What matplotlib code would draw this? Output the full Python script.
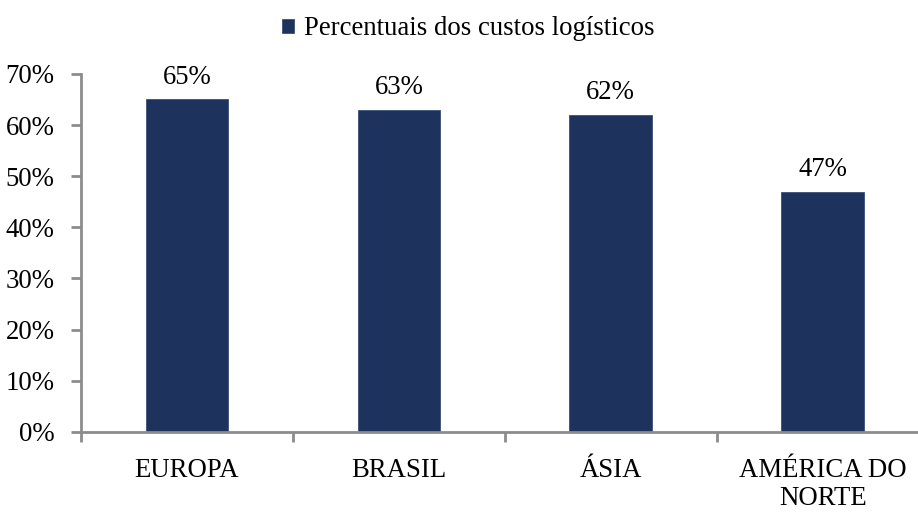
import numpy as np
import matplotlib.pyplot as plt
from matplotlib.ticker import FuncFormatter, FixedLocator

# dados
regioes = ['EUROPA', 'BRASIL', 'ÁSIA', 'AMÉRICA DO\nNORTE']
percentuais = [0.65, 0.63, 0.62, 0.47]
serie = 'Percentuais dos custos logísticos'

plt.rcParams['font.family'] = ['Liberation Serif', 'DejaVu Serif']
cor = '#1d325c'
cinza = '#8c8c8c'
fs = 19.3

fig = plt.figure(figsize=(9.18, 5.13), dpi=100)
ax = fig.add_axes([0.0882, 0.158, 0.9118, 0.698])

x = np.arange(len(regioes))
barras = ax.bar(x, percentuais, width=0.39, color=cor, edgecolor='#3a4f78',
                linewidth=0.6, label=serie, zorder=2)

for b, v in zip(barras, percentuais):
    ax.annotate(f'{v:.0%}', (b.get_x() + b.get_width() / 2, v),
                xytext=(0, 7), textcoords='offset points',
                ha='center', va='bottom', fontsize=fs)

ax.set_ylim(0, 0.7)
ax.set_yticks(np.arange(0, 0.71, 0.1))
ax.yaxis.set_major_formatter(FuncFormatter(lambda v, p: f'{v:.0%}'))
ax.set_xlim(-0.5, 3.45)
ax.set_xticks(x)
ax.set_xticklabels(regioes, fontsize=fs, linespacing=1.12)
ax.xaxis.set_minor_locator(FixedLocator(np.arange(-0.5, 4, 1)))
ax.tick_params(axis='x', which='major', length=0, pad=19)
ax.tick_params(axis='x', which='minor', length=7, width=2, color=cinza)
ax.tick_params(axis='y', length=7, width=2, color=cinza, labelsize=fs, pad=12)

for s in ['top', 'right']:
    ax.spines[s].set_visible(False)
for s in ['left', 'bottom']:
    ax.spines[s].set_color(cinza)
    ax.spines[s].set_linewidth(2)

fig.legend(loc='upper center', bbox_to_anchor=(0.51, 1.015), frameon=False,
           fontsize=fs, handlelength=0.45, handleheight=0.45, handletextpad=0.35)

fig.savefig('out.png', dpi=100)
